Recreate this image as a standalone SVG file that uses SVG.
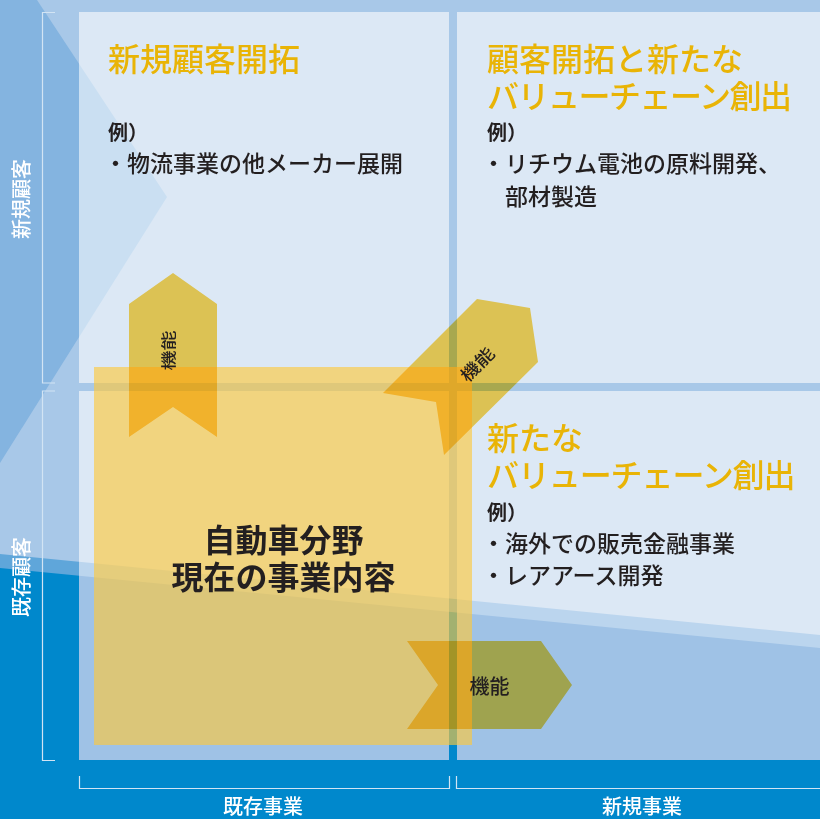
<svg xmlns="http://www.w3.org/2000/svg" width="820" height="819" viewBox="0 0 820 819">
<style>
text{font-family:'Noto Sans','Noto Sans CJK JP',sans-serif;}
.title{fill:#e9b406;font-size:32px;font-weight:500;}
.ex{fill:#231f20;font-size:20px;font-weight:700;}
.item{fill:#231f20;font-size:23px;font-weight:500;}
.center{fill:#231f20;font-size:32px;font-weight:700;text-anchor:middle;}
.axis{fill:#ffffff;font-size:20px;font-weight:500;text-anchor:middle;}
.bracket{fill:none;stroke:#d2e4f4;stroke-width:1.2;}
.arrow{fill:#ffd657;mix-blend-mode:multiply;}
.alabel{fill:#231f20;font-size:20px;font-weight:500;text-anchor:middle;}
</style>
<defs>
<clipPath id="panels">
<rect x="79" y="12" width="370" height="371"/>
<rect x="457" y="12" width="363" height="371"/>
<rect x="79" y="391" width="370" height="369"/>
<rect x="457" y="391" width="363" height="369"/>
</clipPath>
</defs>
<g id="background">
<rect x="0" y="0" width="820" height="819" fill="#a8c8e8"/>
<polygon points="0,0 37,0 167,197 0,463" fill="#84b4e0"/>
<polygon points="0,554 820,635 820,819 0,819" fill="#5fa6da"/>
<polygon points="0,568 820,648 820,819 0,819" fill="#0088cc"/>
</g>
<g id="panels-fill" clip-path="url(#panels)">
<rect x="0" y="0" width="820" height="819" fill="#dce8f5"/>
<polygon points="0,0 37,0 167,197 0,463" fill="#cadff2"/>
<polygon points="0,554 820,635 820,819 0,819" fill="#bbd5ee"/>
<polygon points="0,568 820,648 820,819 0,819" fill="#9fc2e6"/>
</g>
<g id="axes">
<path class="bracket" d="M55,12.5 H42.5 V383 H55"/>
<path class="bracket" d="M55,391 H42.5 V760.5 H55"/>
<path class="bracket" d="M79.5,776 V788.5 H449.5 V776"/>
<path class="bracket" d="M456.5,776 V788.5 H820"/>
<text class="axis" transform="translate(29,199) rotate(-90)">新規顧客</text>
<text class="axis" transform="translate(29,577) rotate(-90)">既存顧客</text>
<text class="axis" x="263" y="814">既存事業</text>
<text class="axis" x="642" y="814">新規事業</text>
</g>
<g id="q-new-customer">
<text class="title" x="108" y="71">新規顧客開拓</text>
<text class="ex" x="108" y="140">例）</text>
<text class="item" x="104" y="172">・物流事業の他メーカー展開</text>
</g>
<g id="q-new-customer-chain">
<text class="title" x="487" y="71">顧客開拓と新たな</text>
<text class="title" x="487" y="108" letter-spacing="-1.5">バリューチェーン創出</text>
<text class="ex" x="487" y="140">例）</text>
<text class="item" x="482" y="172">・リチウム電池の原料開発、</text>
<text class="item" x="505" y="205">部材製造</text>
</g>
<g id="q-new-chain">
<text class="title" x="487" y="450">新たな</text>
<text class="title" x="487" y="487" letter-spacing="-1.1">バリューチェーン創出</text>
<text class="ex" x="487" y="520">例）</text>
<text class="item" x="482" y="552">・海外での販売金融事業</text>
<text class="item" x="482" y="584">・レアアース開発</text>
</g>
<g id="current">
<rect x="94" y="367" width="378" height="378" fill="#fec83b" fill-opacity="0.64"/>
<text class="center" x="283.5" y="552">自動車分野</text>
<text class="center" x="283.5" y="589">現在の事業内容</text>
</g>
<g id="connectors">
<g id="arrow-up">
<polygon class="arrow" points="129,304 173,273 217,304 217,437 173,407 129,437"/>
<text class="alabel" transform="translate(168,350.5) rotate(-90) scale(1,0.75)" y="8">機能</text>
</g>
<g id="arrow-diag">
<polygon class="arrow" points="383,393 477,299 530,308 538,362 444,455 436,402"/>
<text class="alabel" transform="translate(477,364) rotate(-45) scale(1,0.85)" y="8">機能</text>
</g>
<g id="arrow-right">
<polygon class="arrow" points="407,641 541,641 572,685 541,729 407,729 438,685"/>
<text class="alabel" x="489.5" y="694" font-size="19">機能</text>
</g>
</g>
</svg>
